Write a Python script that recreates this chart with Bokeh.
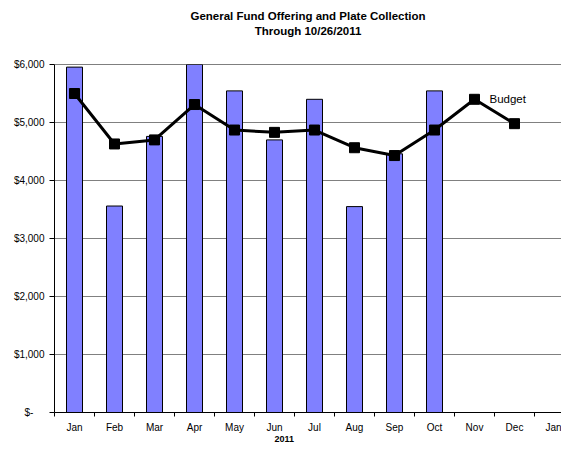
from bokeh.plotting import figure
from bokeh.models import Range1d, FixedTicker, Title, Span, ColumnDataSource
from bokeh.core.properties import value
from bokeh.embed import file_html
from bokeh.resources import INLINE

months = ["Jan", "Feb", "Mar", "Apr", "May", "Jun", "Jul", "Aug", "Sep", "Oct", "Nov", "Dec", "Jan"]
actual = [5955, 3560, 4760, 6000, 5545, 4700, 5400, 3550, 4460, 5545]
budget = [5500, 4630, 4700, 5310, 4870, 4830, 4870, 4565, 4430, 4870, 5400, 4980]
y_ticks = [0, 1000, 2000, 3000, 4000, 5000, 6000]
y_labels = ["$-\u00a0\u00a0\u00a0\u00a0", "$1,000", "$2,000", "$3,000", "$4,000", "$5,000", "$6,000"]
title1 = "General Fund Offering and Plate Collection"
title2 = "Through 10/26/2011"
x_title = "2011"
series_name = "Budget"

FONT = "Liberation Sans"

p = figure(width=561, height=443, output_backend="svg", toolbar_location=None,
           x_range=Range1d(-0.5, 12.175), y_range=Range1d(0, 6000),
           min_border_left=54, min_border_right=0, min_border_top=64, min_border_bottom=28)
p.background_fill_color = "white"
p.border_fill_color = "white"
p.outline_line_color = None

# titles (spacer nearest the frame, then line 2, then line 1)
spacer = Title(text=" ", align="center", text_font=FONT, text_font_size="11.5px", standoff=14)
t2 = Title(text=title2, align="center", text_font=FONT, text_font_size="11.5px",
           text_font_style="bold", text_color="black", standoff=0)
t1 = Title(text=title1, align="center", text_font=FONT, text_font_size="11.5px",
           text_font_style="bold", text_color="black", standoff=2)
p.add_layout(spacer, "above")
p.add_layout(t2, "above")
p.add_layout(t1, "above")
p.title = None

xt = Title(text=x_title, align="left", offset=220, text_font=FONT, text_font_size="9px",
           text_font_style="bold", text_color="black", standoff=0, text_line_height=1.0,
           vertical_align="top")
p.add_layout(xt, "below")

# bars
xs = list(range(len(actual)))
src_a = ColumnDataSource(dict(x=xs, top=actual))
p.vbar(x="x", top="top", width=0.4, bottom=0, source=src_a,
       fill_color="#8080FF", line_color="black", line_width=1)

# budget line
bx = list(range(len(budget)))
src_b = ColumnDataSource(dict(x=bx, y=budget))
p.line(x="x", y="y", source=src_b, line_color="black", line_width=3)
p.scatter(x="x", y="y", source=src_b, marker="square", size=10,
          fill_color="black", line_color="black")

# series label at the Nov point
p.text(x=[bx[10]], y=[budget[10]], text=[series_name], x_offset=15,
       text_baseline="middle", text_align="left",
       text_font=value(FONT), text_font_size="11.5px", text_color="black")

# top border line
p.add_layout(Span(location=y_ticks[-1], dimension="width", line_color="black", line_width=1))

# axes
p.xaxis.ticker = FixedTicker(ticks=list(range(len(months))),
                             minor_ticks=[i - 0.5 for i in range(len(months) + 1)])
p.xaxis.major_label_overrides = {i: m for i, m in enumerate(months)}
p.xaxis.major_tick_out = 0
p.xaxis.major_tick_in = 0
p.xaxis.minor_tick_out = 4
p.xaxis.minor_tick_in = 0
p.xaxis.minor_tick_line_color = "black"
p.xaxis.axis_line_color = "black"
p.xaxis.major_label_standoff = 5
p.xaxis.major_label_text_font = FONT
p.xaxis.major_label_text_font_size = "10px"
p.xaxis.major_label_text_line_height = 1.0
p.xaxis.major_label_text_color = "black"

p.yaxis.ticker = FixedTicker(ticks=y_ticks, minor_ticks=[])
p.yaxis.major_label_overrides = {t: l for t, l in zip(y_ticks, y_labels)}
p.yaxis.major_tick_out = 5
p.yaxis.major_tick_in = 0
p.yaxis.major_tick_line_color = "black"
p.yaxis.axis_line_color = "black"
p.yaxis.major_label_standoff = 5
p.yaxis.major_label_text_font = FONT
p.yaxis.major_label_text_font_size = "10px"
p.yaxis.major_label_text_color = "black"

p.xgrid.grid_line_color = None
p.ygrid.ticker = FixedTicker(ticks=y_ticks[1:-1])
p.ygrid.grid_line_color = "#808080"
p.ygrid.grid_line_width = 1

open("out.html", "w").write(file_html(p, INLINE))
